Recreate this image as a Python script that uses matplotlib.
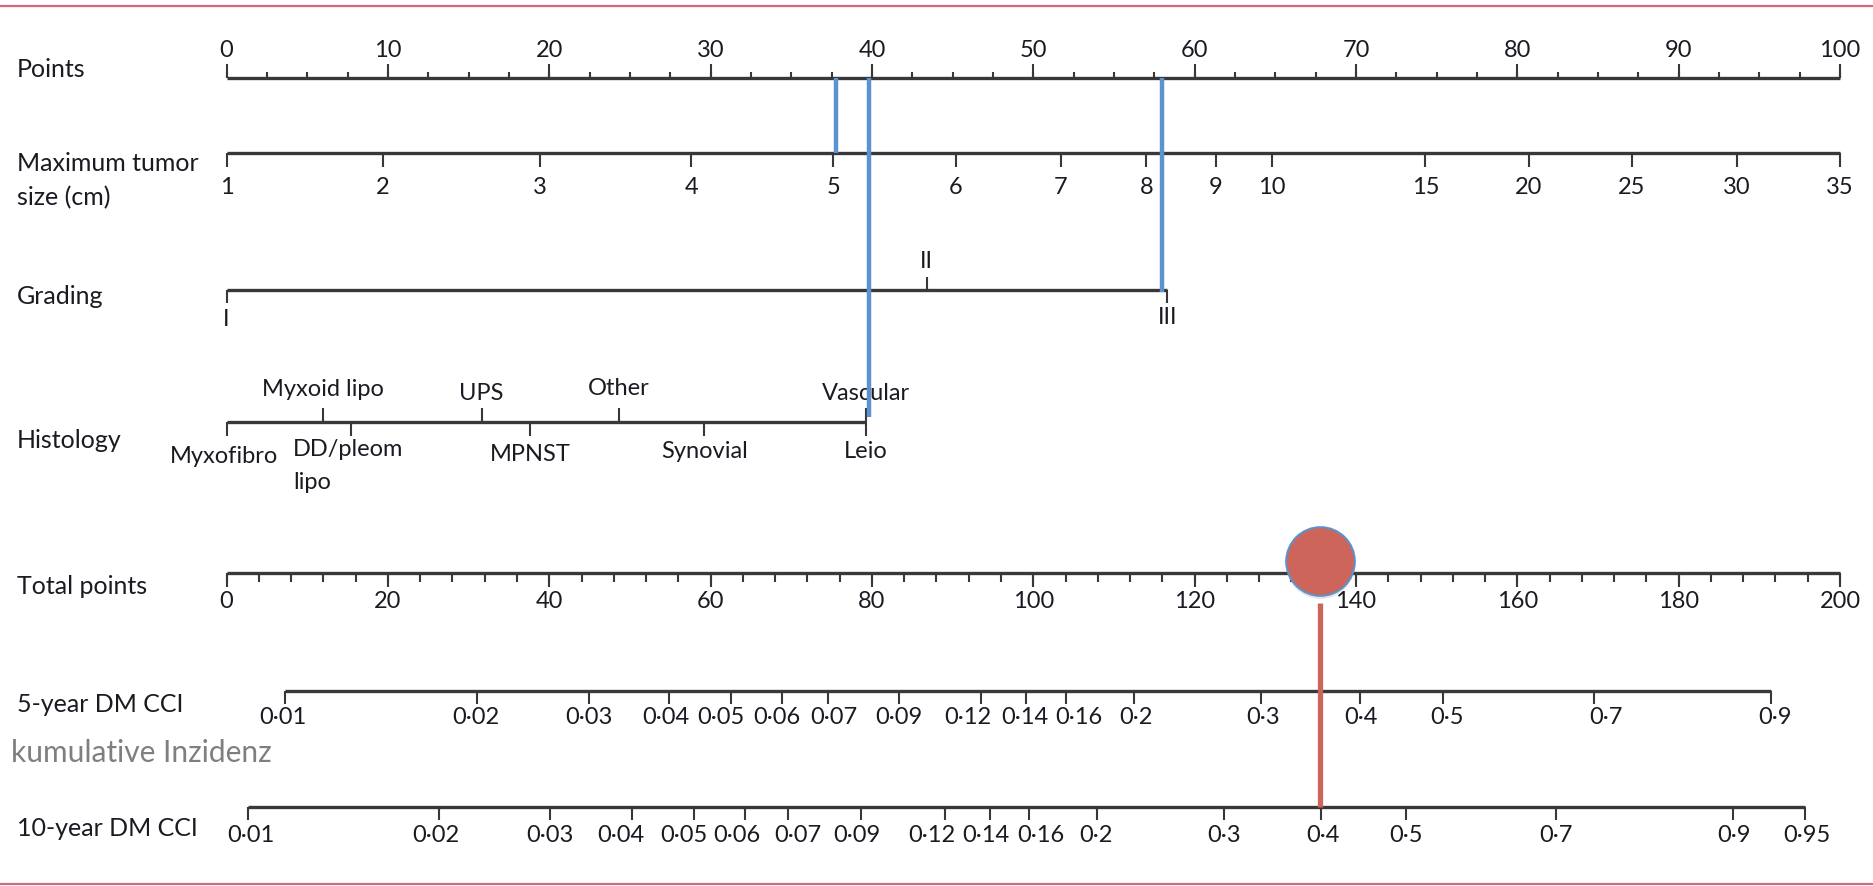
import matplotlib
matplotlib.use("Agg")
import matplotlib.pyplot as plt
import numpy as np

plt.rcParams['font.family'] = ['Lato', 'DejaVu Sans']

# --- nomogram data ---
points_major = np.arange(0, 101, 10)
points_minor = np.arange(0, 100.01, 2.5)

tumor_cm = ['1', '2', '3', '4', '5', '6', '7', '8', '9', '10', '15', '20', '25', '30', '35']
tumor_pts = [0, 9.7, 19.4, 28.8, 37.6, 45.2, 51.7, 57.0, 61.3, 64.8, 74.3, 80.7, 87.1, 93.6, 100]

grade_labels = ['I', 'II', 'III']
grade_pts = [0, 43.4, 58.3]

hist_labels = ['Myxofibro', 'Myxoid lipo', 'DD/pleom\nlipo', 'UPS', 'MPNST',
               'Other', 'Synovial', 'Vascular', 'Leio']
hist_pts = [0, 6.0, 7.7, 15.8, 18.8, 24.3, 29.6, 39.6, 39.6]

total_major = np.arange(0, 201, 20)
total_minor = np.arange(0, 200.01, 4)

cci5_labels = ['0·01', '0·02', '0·03', '0·04', '0·05', '0·06', '0·07', '0·09', '0·12',
               '0·14', '0·16', '0·2', '0·3', '0·4', '0·5', '0·7', '0·9']
cci5_pts = [7.2, 31.0, 44.9, 54.9, 62.5, 68.9, 74.5, 83.3, 93.5,
            99.1, 104.0, 112.5, 128.2, 140.5, 150.8, 169.5, 191.4]

cci10_labels = ['0·01', '0·02', '0·03', '0·04', '0·05', '0·06', '0·07', '0·09', '0·12',
                '0·14', '0·16', '0·2', '0·3', '0·4', '0·5', '0·7', '0·9', '0·95']
cci10_pts = [2.6, 26.3, 40.1, 50.2, 58.0, 64.3, 69.6, 78.7, 89.0,
             94.6, 99.5, 107.9, 123.6, 135.7, 146.2, 164.8, 186.7, 195.6]

# example patient: tumour size, histology (leiomyosarcoma), grade III
patient_tumor = 37.8
patient_hist = 39.8
patient_grade = 58.0
patient_total = patient_tumor + patient_hist + patient_grade

# --- layout (pixels from the top, figure is 1874 x 886) ---
W, H = 1874, 886
X0, X1 = 226.6, 1840.0
rows = {'points': 77.5, 'tumor': 152.5, 'grade': 289.5, 'hist': 421.5,
        'total': 573.0, 'cci5': 690.5, 'cci10': 806.5}

# horizontal shifts (px) that keep crowded probability labels apart
cci5_nudge = [-2, -1, 0, -4, -10, -6, 6, 0, -13, -1, 13, 2, 2, 1, 4, 12, 4]
cci10_nudge = [3, -3, 0, -11, -11, -8, 10, -5, -13, -4, 12, -1, 0, 2, 0, 0, 1, 2]

TXT = '#1a1a22'
LINE = '#383838'
BLUE = '#5b93cf'
RED = '#cd655b'
FS_TICK = 17
FS_NAME = 18

fig = plt.figure(figsize=(W / 100, H / 100), dpi=100)


def scale_axes(vmax):
    ax = fig.add_axes([0, 0, 1, 1])
    ppu = (X1 - X0) / vmax
    ax.set_xlim(-X0 / ppu, (W - X0) / ppu)
    ax.set_ylim(H, 0)
    ax.axis('off')
    ax.patch.set_alpha(0)
    return ax, ppu


ax_top, ppu_top = scale_axes(100)
ax_bot, ppu_bot = scale_axes(200)


def axis_line(ax, x0, x1, y):
    ax.hlines(y, x0, x1, color=LINE, lw=2.4, zorder=2)


def ticks(ax, xs, y, length, up=False, lw=1.5):
    y1 = y - length if up else y + length
    ax.vlines(xs, y, y1, color=LINE, lw=lw, zorder=2)


def labels(ax, xs, texts, y, nudge=None, ppu=1.0):
    if nudge is None:
        nudge = [0] * len(xs)
    for x, t, dx in zip(xs, texts, nudge):
        ax.text(x + dx / ppu, y, t, fontsize=FS_TICK, color=TXT, ha='center', va='center')


def row_name(text, y, x=17, **kw):
    ax_top.text(x / W, y, text, transform=ax_top.get_yaxis_transform(),
                fontsize=kw.pop('fontsize', FS_NAME), color=kw.pop('color', TXT),
                ha='left', va='center', **kw)


# Points
y = rows['points']
axis_line(ax_top, 0, 100, y)
ticks(ax_top, points_minor, y, 6, up=True)
ticks(ax_top, points_major, y, 14, up=True)
labels(ax_top, points_major, [str(v) for v in points_major], 50)
row_name('Points', 69)

# Maximum tumour size
y = rows['tumor']
axis_line(ax_top, 0, 100, y)
ticks(ax_top, tumor_pts, y, 14)
labels(ax_top, tumor_pts, tumor_cm, 187.5)
row_name('Maximum tumor', 163)
row_name('size (cm)', 198)

# Grading
y = rows['grade']
axis_line(ax_top, 0, grade_pts[-1], y)
ticks(ax_top, [grade_pts[0], grade_pts[2]], y, 13)
ticks(ax_top, [grade_pts[1]], y, 13, up=True)
labels(ax_top, [grade_pts[0]], [grade_labels[0]], 320)
labels(ax_top, [grade_pts[1]], [grade_labels[1]], 262)
labels(ax_top, [grade_pts[2]], [grade_labels[2]], 318)
row_name('Grading', 296)

# Histology
y = rows['hist']
axis_line(ax_top, 0, max(hist_pts), y)
hist_up = ['Myxoid lipo', 'UPS', 'Other', 'Vascular']
hist_base = {'Myxofibro': 463, 'Myxoid lipo': 395.5, 'UPS': 400, 'MPNST': 460.5,
             'Other': 395, 'Synovial': 458, 'Vascular': 400, 'Leio': 458}
for lab, p in zip(hist_labels, hist_pts):
    up = lab in hist_up
    ticks(ax_top, [p], y, 14, up=up)
    if lab.startswith('DD'):
        first, second = lab.split('\n')
        xl = p - 57.5 / ppu_top
        ax_top.text(xl, 456, first, fontsize=FS_TICK, color=TXT, ha='left', va='baseline')
        ax_top.text(xl, 489, second, fontsize=FS_TICK, color=TXT, ha='left', va='baseline')
    else:
        dx = -2.5 / ppu_top if lab == 'Myxofibro' else 0
        ax_top.text(p + dx, hist_base[lab], lab, fontsize=FS_TICK, color=TXT,
                    ha='center', va='baseline')
row_name('Histology', 440)

# Total points
y = rows['total']
axis_line(ax_bot, 0, 200, y)
ticks(ax_bot, total_minor, y, 9)
ticks(ax_bot, total_major, y, 14)
labels(ax_bot, total_major, [str(v) for v in total_major], 602)
row_name('Total points', 587)

# 5-year cumulative incidence
y = rows['cci5']
axis_line(ax_bot, cci5_pts[0], cci5_pts[-1], y)
ticks(ax_bot, cci5_pts, y, 13)
labels(ax_bot, cci5_pts, cci5_labels, 718, cci5_nudge, ppu_bot)
row_name('5-year DM CCI', 705)
row_name('kumulative Inzidenz', 753, x=11, fontsize=21.5, color='#7f7f7f')

# 10-year cumulative incidence
y = rows['cci10']
axis_line(ax_bot, cci10_pts[0], cci10_pts[-1], y)
ticks(ax_bot, cci10_pts, y, 13)
labels(ax_bot, cci10_pts, cci10_labels, 836, cci10_nudge, ppu_bot)
row_name('10-year DM CCI', 828)

# patient read-off lines
ax_top.vlines(patient_tumor, rows['points'], rows['tumor'], color=BLUE, lw=3.2, zorder=4)
ax_top.vlines(patient_hist, rows['points'], rows['hist'] - 5, color=BLUE, lw=3.2, zorder=4)
ax_top.vlines(patient_grade, rows['points'], rows['grade'] + 2, color=BLUE, lw=3.2, zorder=4)

ax_bot.vlines(patient_total, 603, rows['cci10'], color=RED, lw=3.8, zorder=4)
ax_bot.scatter([patient_total], [564], s=2450, color='#9a9a9a', alpha=0.25,
               linewidths=0, zorder=4)
ax_bot.scatter([patient_total], [561], s=2450, color=RED, edgecolors=BLUE,
               linewidths=1.4, zorder=5)

# frame lines
ax_top.axhline(6, color='#d6687e', lw=1.6)
ax_top.axhline(884, color='#d6687e', lw=1.6)

fig.savefig('out.png', dpi=100)
